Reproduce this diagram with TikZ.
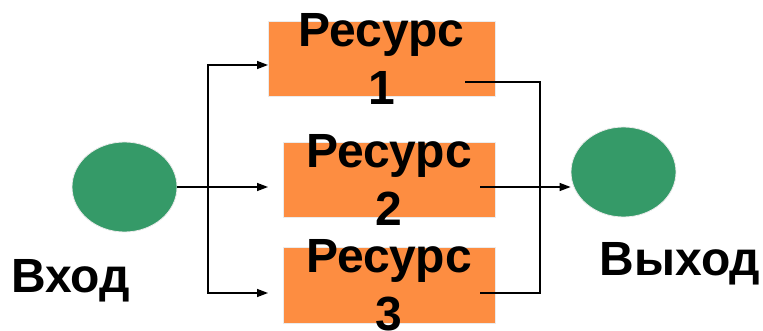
\documentclass[tikz,border=0pt]{standalone}
\usepackage{fontspec}
\setmainfont{Liberation Sans}
\usetikzlibrary{arrows.meta,shapes.geometric,calc}
\definecolor{resorange}{RGB}{253,141,65}
\definecolor{portgreen}{RGB}{53,154,104}
\begin{document}
\begin{tikzpicture}[x=1pt,y=-1pt,
  wire/.style={line width=1.4pt,black},
  arr/.style={wire,-{Triangle[length=11pt,width=8pt]}},
  port/.style={ellipse,fill=portgreen,draw=black!8,line width=0.8pt,
    minimum width=105pt,minimum height=90pt,inner sep=0pt},
  resbox/.style={rectangle,fill=resorange,draw=black!8,line width=0.8pt,
    minimum height=75pt,inner sep=0pt},
  bigtext/.style={inner sep=0pt,align=center,
    font=\bfseries\fontsize{48}{58}\selectfont},
  caption/.style={bigtext,anchor=base}]
\useasboundingbox (0,0) rectangle (763,331);

% input and output ports
\node[port] (inN) at (124.5,187) {};
\node[port] (outN) at (623.5,172) {};
\node[caption] (inL) at (70.5,292) {Вход};
\node[caption] (outL) at (680,275) {Выход};

% resources: the text runs past the boxes
\node[resbox,minimum width=227pt] (r1) at (381.5,58.5) {};
\node[resbox,minimum width=212pt] (r2) at (389,179.5) {};
\node[resbox,minimum width=212pt,minimum height=76pt] (r3) at (389,285) {};
\node[bigtext] (r1t) at (r1.center) {Ресурс\\1};
\node[bigtext] (r2t) at (r2.center) {Ресурс\\2};
\node[bigtext] (r3t) at (r3.center) {Ресурс\\3};

% fork on the input side
\coordinate (fork) at (208,187);
\coordinate (t1) at (268,65);
\coordinate (t2) at (268,187);
\coordinate (t3) at (268,293);
\draw[arr] (inN.east) -- (t2);
\draw[arr] (fork) |- (t1);
\draw[arr] (fork) |- (t3);

% merge on the output side
\coordinate (s1) at (465,82);
\coordinate (s2) at (480,187);
\coordinate (s3) at (480,293);
\coordinate (merge) at (540,187);
\draw[wire] (s1) -| (merge) |- (s3);
\draw[arr] (s2) -- (outN.west |- s2);
\end{tikzpicture}
\end{document}
